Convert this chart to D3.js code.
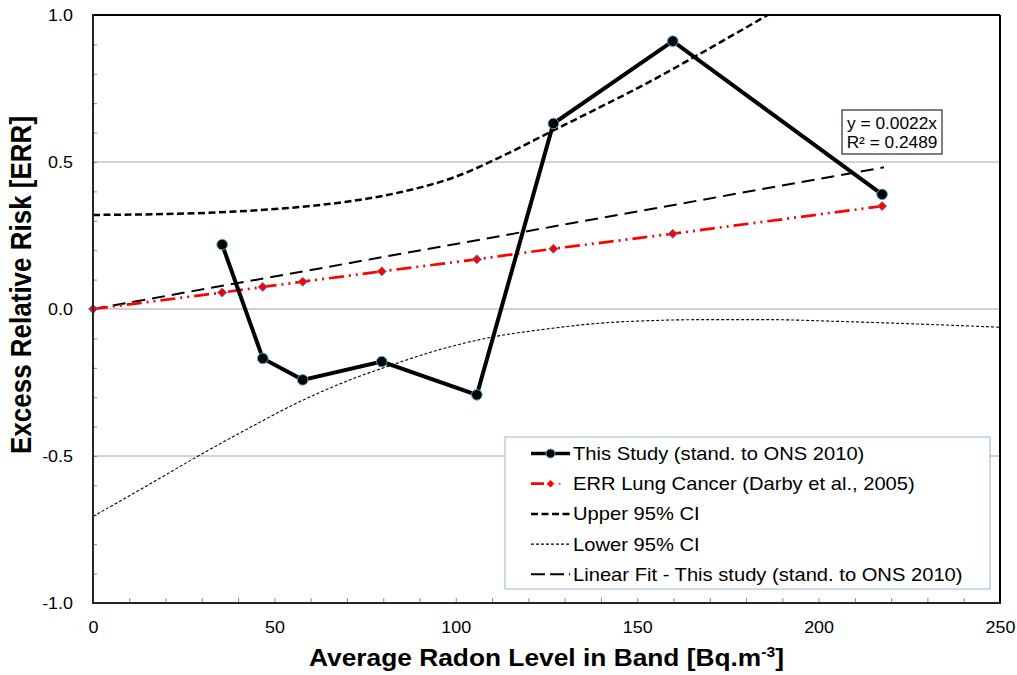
<!DOCTYPE html>
<html>
<head>
<meta charset="utf-8">
<script src="https://cdn.jsdelivr.net/npm/d3@7"></script>
<style>
  html, body { margin: 0; padding: 0; background: #ffffff; }
  svg { display: block; font-family: Arial, "Liberation Sans", sans-serif; }
</style>
</head>
<body>
<div id="chart"></div>
<script>
// ==========================================
// Data
// ==========================================
const radonBands = [35.6, 46.8, 57.8, 79.6, 105.8, 126.9, 159.8, 217.5];
const studyErr = [0.219, -0.168, -0.241, -0.179, -0.292, 0.631, 0.911, 0.39];

const darbyX = [0, 35.6, 46.8, 57.8, 79.6, 105.8, 126.9, 159.8, 217.5];
const darbyErr = [0, 0.056, 0.075, 0.093, 0.128, 0.169, 0.205, 0.256, 0.350];

const upperX = [0, 20, 40, 57, 70, 85, 100, 112, 127, 140, 153, 165, 186, 200];
const upperY = [0.32, 0.323, 0.332, 0.347, 0.365, 0.398, 0.45, 0.515, 0.608, 0.688, 0.77, 0.852, 1.0, 1.1];

const lowerX = [0, 15, 29, 43, 57, 70, 82, 95, 109, 125, 140, 155, 170, 185, 205, 225, 250];
const lowerY = [-0.706, -0.6, -0.5, -0.405, -0.315, -0.245, -0.192, -0.14, -0.098, -0.068, -0.048, -0.039, -0.036, -0.036, -0.042, -0.05, -0.062];

const fitX = [0, 218];
const fitY = [0, 0.482];

const xTicks = [0, 50, 100, 150, 200, 250];
const yTicks = [-1.0, -0.5, 0.0, 0.5, 1.0];

const legendLabels = [
  "This Study (stand. to ONS 2010)",
  "ERR Lung Cancer (Darby et al., 2005)",
  "Upper 95% CI",
  "Lower 95% CI",
  "Linear Fit - This study (stand. to ONS 2010)"
];
const fitLabel = ["y = 0.0022x", "R\u00b2 = 0.2489"];

// ==========================================
// Layout / styles
// ==========================================
const width = 1017, height = 675;
const margin = { top: 15, right: 17, bottom: 72, left: 93 };
const innerW = width - margin.left - margin.right;
const innerH = height - margin.top - margin.bottom;
const K = 1.12; // reference text is a bit wide, stretch glyphs horizontally

const STYLES = {
  study: { stroke: "#000000", width: 4, dash: null },
  darby: { stroke: "#ff0000", width: 2.7, dash: "15,5,2,5,2,5" },
  upper: { stroke: "#000000", width: 2.5, dash: "7,3.5" },
  lower: { stroke: "#000000", width: 1.1, dash: "3,2" },
  fit:   { stroke: "#000000", width: 2, dash: "13,7" }
};

// turn x/y of text into a translate + horizontal stretch
function stretch(sel, k) {
  sel.each(function() {
    const t = d3.select(this);
    const tx = +t.attr("x") || 0, ty = +t.attr("y") || 0;
    t.attr("x", null).attr("y", null).attr("transform", `translate(${tx},${ty}) scale(${k},1)`);
  });
}

const x = d3.scaleLinear().domain([0, 250]).range([0, innerW]);
const y = d3.scaleLinear().domain([-1, 1]).range([innerH, 0]);

const svg = d3.select("#chart").append("svg")
  .attr("width", width)
  .attr("height", height);

svg.append("defs").append("clipPath").attr("id", "plotClip")
  .append("rect").attr("width", innerW).attr("height", innerH);

const g = svg.append("g").attr("transform", `translate(${margin.left},${margin.top})`);

// gridlines
[-0.5, 0.5].forEach(v => {
  g.append("line").attr("x1", 0).attr("x2", innerW).attr("y1", y(v)).attr("y2", y(v))
    .attr("stroke", "#a6a6a6").attr("stroke-width", 1);
});
g.append("line").attr("x1", 0).attr("x2", innerW).attr("y1", y(0)).attr("y2", y(0))
  .attr("stroke", "#d0d0d0").attr("stroke-width", 2);

// minor ticks (inside)
g.append("g")
  .call(d3.axisLeft(y).tickValues(d3.range(-10, 11).map(d => d / 10)).tickSize(-4).tickFormat(""))
  .call(a => a.select(".domain").remove())
  .selectAll("line").attr("stroke", "#8c8c8c");
g.append("g").attr("transform", `translate(0,${innerH})`)
  .call(d3.axisBottom(x).tickValues(d3.range(0, 251, 10)).tickSize(-5).tickFormat(""))
  .call(a => a.select(".domain").remove())
  .selectAll("line").attr("stroke", "#8c8c8c");

// tick labels
g.append("g")
  .call(d3.axisLeft(y).tickValues(yTicks).tickSize(0).tickPadding(20).tickFormat(d => d.toFixed(1)))
  .call(a => a.select(".domain").remove())
  .selectAll("text").attr("font-size", "16px").attr("fill", "#000").attr("font-family", "Arial, 'Liberation Sans', sans-serif")
  .call(stretch, K);
g.append("g").attr("transform", `translate(0,${innerH})`)
  .call(d3.axisBottom(x).tickValues(xTicks).tickSize(0).tickPadding(19).tickFormat(d3.format("d")))
  .call(a => a.select(".domain").remove())
  .selectAll("text").attr("font-size", "16px").attr("fill", "#000").attr("font-family", "Arial, 'Liberation Sans', sans-serif")
  .call(stretch, K);

// ==========================================
// Series
// ==========================================
const line = d3.line().x(d => x(d[0])).y(d => y(d[1]));
const smooth = d3.line().x(d => x(d[0])).y(d => y(d[1])).curve(d3.curveMonotoneX);
const plot = g.append("g").attr("clip-path", "url(#plotClip)");

function drawPath(data, gen, st) {
  plot.append("path").datum(data)
    .attr("d", gen)
    .attr("fill", "none")
    .attr("stroke", st.stroke)
    .attr("stroke-width", st.width)
    .attr("stroke-dasharray", st.dash);
}

drawPath(d3.zip(lowerX, lowerY), smooth, STYLES.lower);
drawPath(d3.zip(upperX, upperY), smooth, STYLES.upper);
drawPath(d3.zip(fitX, fitY), line, STYLES.fit);
drawPath(d3.zip(darbyX, darbyErr), line, STYLES.darby);

const diamond = d3.symbol().type(d3.symbolDiamond2).size(52);
g.selectAll("path.darby").data(d3.zip(darbyX, darbyErr)).enter().append("path")
  .attr("class", "darby")
  .attr("transform", d => `translate(${x(d[0])},${y(d[1])})`)
  .attr("d", diamond)
  .attr("fill", "#ff0000").attr("stroke", "#4f81bd").attr("stroke-width", 1);

drawPath(d3.zip(radonBands, studyErr), line, STYLES.study);
g.selectAll("circle.study").data(d3.zip(radonBands, studyErr)).enter().append("circle")
  .attr("class", "study")
  .attr("cx", d => x(d[0])).attr("cy", d => y(d[1]))
  .attr("r", 5.3)
  .attr("fill", "#000").attr("stroke", "#4bacc6").attr("stroke-width", 1);

// frame
g.append("line").attr("x1", 0).attr("x2", innerW).attr("y1", 0).attr("y2", 0).attr("stroke", "#000").attr("stroke-width", 2);
g.append("line").attr("x1", innerW).attr("x2", innerW).attr("y1", 0).attr("y2", innerH).attr("stroke", "#000").attr("stroke-width", 2);
g.append("line").attr("x1", 0).attr("x2", 0).attr("y1", -1).attr("y2", innerH + 1).attr("stroke", "#262626").attr("stroke-width", 2);
g.append("line").attr("x1", -1).attr("x2", innerW + 1).attr("y1", innerH).attr("y2", innerH).attr("stroke", "#262626").attr("stroke-width", 2);

// fit annotation box
const ann = g.append("g").attr("transform", `translate(${842 - margin.left},${110 - margin.top})`);
ann.append("rect").attr("width", 100).attr("height", 44).attr("fill", "#fff").attr("stroke", "#000").attr("stroke-width", 1);
fitLabel.forEach((t, i) => {
  ann.append("text").attr("x", 50).attr("y", 18.5 + i * 19.5).attr("text-anchor", "middle")
    .attr("font-size", "16px").attr("fill", "#000").text(t)
    .call(stretch, 1.08);
});

// ==========================================
// Legend
// ==========================================
const leg = svg.append("g").attr("transform", "translate(505,437)");
leg.append("rect").attr("width", 485).attr("height", 152).attr("fill", "#fff")
  .attr("stroke", "#95b3d7").attr("stroke-width", 1);
const legStyles = [STYLES.study, STYLES.darby, STYLES.upper, STYLES.lower, STYLES.fit];
legendLabels.forEach((lab, i) => {
  const ry = 16.5 + i * 30.2;
  const st = legStyles[i];
  leg.append("line").attr("x1", 26).attr("x2", 65).attr("y1", ry).attr("y2", ry)
    .attr("stroke", st.stroke).attr("stroke-width", i === 0 ? 3.5 : st.width)
    .attr("stroke-dasharray", i === 1 ? "13,5,2,40" : (i === 4 ? "14,5" : st.dash));
  if (i === 0) {
    leg.append("circle").attr("cx", 45.5).attr("cy", ry).attr("r", 4.5)
      .attr("fill", "#000").attr("stroke", "#4bacc6").attr("stroke-width", 1);
  }
  if (i === 1) {
    leg.append("path").attr("transform", `translate(45.5,${ry})`).attr("d", d3.symbol().type(d3.symbolDiamond2).size(32))
      .attr("fill", "#ff0000").attr("stroke", "#ff0000").attr("stroke-width", 0.5);
    leg.append("rect").attr("x", 54).attr("y", ry - 0.7).attr("width", 1.5).attr("height", 1.5).attr("fill", "#ff0000");
  }
  leg.append("text").attr("x", 68).attr("y", ry + 6.5).attr("font-size", "18px").attr("fill", "#000").text(lab)
    .call(stretch, K);
});

// ==========================================
// Axis titles
// ==========================================
const xt = svg.append("text")
  .attr("x", margin.left + innerW / 2).attr("y", 666)
  .attr("text-anchor", "middle").attr("font-size", "23.5px").attr("font-weight", "bold").attr("fill", "#000");
xt.append("tspan").text("Average Radon Level in Band [Bq.m");
xt.append("tspan").attr("dy", -9).attr("font-size", "14px").text("-3");
xt.append("tspan").attr("dy", 9).text("]");
xt.call(stretch, K);

// y title: bottom of "Excess" sits level with the -0.5 label
svg.append("text")
  .attr("transform", `translate(31,454) scale(${K},1) rotate(-90)`)
  .attr("text-anchor", "start").attr("font-size", "26px").attr("font-weight", "bold").attr("fill", "#000")
  .text("Excess Relative Risk [ERR]");
</script>
</body>
</html>
